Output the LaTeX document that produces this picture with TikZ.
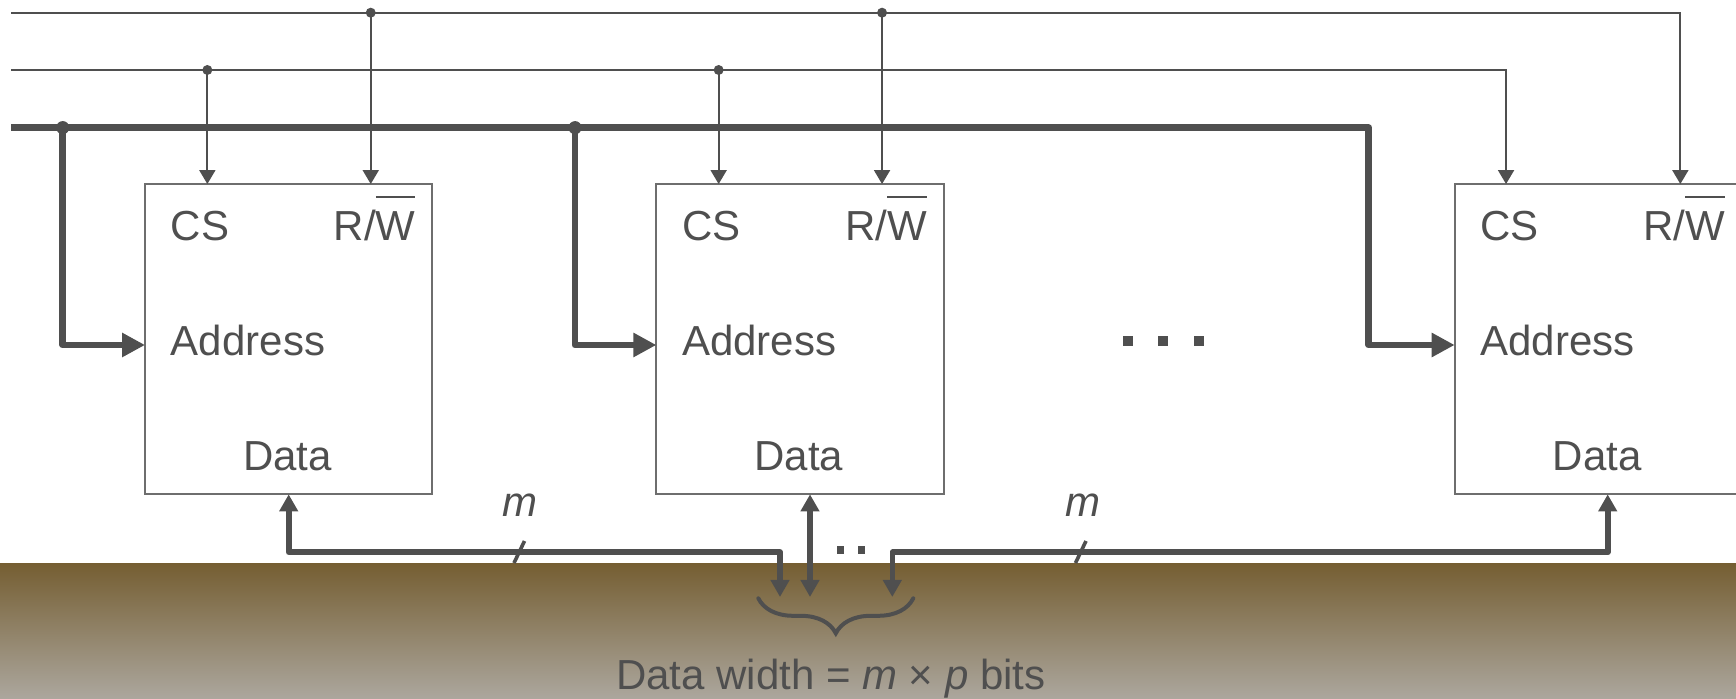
\documentclass[tikz,border=0pt]{standalone}
\usepackage{fontspec}
\setsansfont{Liberation Sans}
\usepackage{xcolor}
\usetikzlibrary{positioning, arrows.meta, calc, decorations.pathreplacing}
\definecolor{ink}{HTML}{4F4F4F}
\definecolor{rim}{HTML}{6E6E6E}
\definecolor{soil}{HTML}{755E32}
\definecolor{sand}{HTML}{ACA79E}
\newcommand{\negbar}[1]{\sbox0{#1}\rlap{\rule[1.02em]{\wd0}{0.9pt}}\usebox0}

\begin{document}
\begin{tikzpicture}[
  x=0.5pt, y=-0.5pt,
  font=\sffamily\fontsize{21}{25}\selectfont,
  chip/.style={draw=rim, line width=1pt, minimum width=143.65pt,
              minimum height=155.15pt, inner sep=0pt, outer sep=0pt},
  pin/.style={inner sep=0pt, text=ink},
  ctl/.style={-{Triangle[length=7pt, width=8pt]}, ink, line width=1pt},
  abus/.style={-{Triangle[length=11.5pt, width=11.5pt]}, ink, line width=3.4pt,
              line join=round},
  dbus/.style={{Triangle[length=8.5pt, width=9pt]}-{Triangle[length=8.5pt, width=9pt]},
              ink, line width=2.8pt, line join=round},
  tick/.style={ink, line width=1.8pt}
]
  \clip (0,0) rectangle (1736,699);

  % Ground band
  \shade[top color=soil, bottom color=sand] (0,563.3) rectangle (1736,699);

  % Memory chips
  \node[chip] (m1) at (288.7,339.2) {};
  \node[chip, right=112pt of m1] (m2) {};
  \node[chip, right=255.5pt of m2] (m3) {};

  % Pin labels
  \node[pin, anchor=base west] (cs1) at ([shift={(25.5,56.7)}]m1.north west) {CS};
  \node[pin, anchor=base east] (rw1) at ([shift={(-16.5,56.7)}]m1.north east) {R/\negbar{W}};
  \node[pin, anchor=base west] (ad1) at ([shift={(25.5,171.7)}]m1.north west) {Address};
  \node[pin, anchor=base west] (da1) at ([shift={(97.7,286.7)}]m1.north west) {Data};

  \node[pin, anchor=base west] (cs2) at ([shift={(25.5,56.7)}]m2.north west) {CS};
  \node[pin, anchor=base east] (rw2) at ([shift={(-16.5,56.7)}]m2.north east) {R/\negbar{W}};
  \node[pin, anchor=base west] (ad2) at ([shift={(25.5,171.7)}]m2.north west) {Address};
  \node[pin, anchor=base west] (da2) at ([shift={(97.7,286.7)}]m2.north west) {Data};

  \node[pin, anchor=base west] (cs3) at ([shift={(25.5,56.7)}]m3.north west) {CS};
  \node[pin, anchor=base east] (rw3) at ([shift={(-16.5,56.7)}]m3.north east) {R/\negbar{W}};
  \node[pin, anchor=base west] (ad3) at ([shift={(25.5,171.7)}]m3.north west) {Address};
  \node[pin, anchor=base west] (da3) at ([shift={(97.7,286.7)}]m3.north west) {Data};

  % Inputs and pin points
  \coordinate (rw0) at (11,12.7);
  \coordinate (cs0) at (11,70);
  \coordinate (bus0) at (11,127.7);

  \coordinate (c1) at ([shift={(62.3,0)}]m1.north west);
  \coordinate (r1) at ([shift={(225.7,0)}]m1.north west);
  \coordinate (c2) at ([shift={(62.3,0)}]m2.north west);
  \coordinate (r2) at ([shift={(225.7,0)}]m2.north west);
  \coordinate (c3) at ([shift={(51.4,0)}]m3.north west);
  \coordinate (r3) at ([shift={(225.7,0)}]m3.north west);
  \coordinate (a1) at ([shift={(0,5.8)}]m1.west);
  \coordinate (a2) at ([shift={(0,5.8)}]m2.west);
  \coordinate (a3) at ([shift={(0,5.8)}]m3.west);
  \coordinate (d1) at ([shift={(-82.3,0)}]a1);
  \coordinate (d2) at ([shift={(-81.3,0)}]a2);
  \coordinate (d3) at ([shift={(-86,0)}]a3);

  % Control lines
  \draw[ctl] (rw0) -| (r3);
  \draw[ctl] (cs0) -| (c3);
  \draw[ctl] (r1 |- rw0) -- (r1);
  \draw[ctl] (c1 |- cs0) -- (c1);
  \draw[ctl] (r2 |- rw0) -- (r2);
  \draw[ctl] (c2 |- cs0) -- (c2);
  \fill[ink] (r1 |- rw0) circle[radius=2.5pt] (c1 |- cs0) circle[radius=2.5pt]
             (r2 |- rw0) circle[radius=2.5pt] (c2 |- cs0) circle[radius=2.5pt];

  % Address bus
  \draw[abus] (bus0) -| (d3) -- (a3);
  \draw[abus] (d1 |- bus0) |- (a1);
  \draw[abus] (d2 |- bus0) |- (a2);
  \fill[ink] (d1 |- bus0) circle[radius=3.3pt] (d2 |- bus0) circle[radius=3.3pt];

  \foreach \x in {1128,1163,1199}
    \fill[ink] (\x-5,336) rectangle ++(10,10);

  % Data lines
  \coordinate (h1) at (780,552.3);
  \coordinate (h3) at (892.3,552.3);
  \coordinate (p1) at (780,597);
  \coordinate (p2) at (810,597);
  \coordinate (p3) at (892.3,597);
  \coordinate (q3) at (1607.7,552.3);

  \draw[dbus] (m1.south) |- (h1) -- (p1);
  \draw[dbus] (p2 |- m2.south) -- (p2);
  \draw[dbus] (q3 |- m3.south) |- (h3) -- (p3);

  \foreach \x in {840.7,861.7}
    \fill[ink] (\x-3.75,546.3) rectangle ++(7.5,7.5);

  \draw[tick] (514,563) -- (524.5,541);
  \draw[tick] (1075.5,563) -- (1086,541);
  \node[pin, anchor=base] (mA) at (520,516.7) {\textit{m}};
  \node[pin, anchor=base] (mB) at (1082.8,516.7) {\textit{m}};

  % Brace and width
  \draw[ink, line width=2pt, line cap=round, decorate,
        decoration={brace, amplitude=17.5pt, mirror}] (758.3,598.3) -- (913.3,598.3);
  \node[pin, anchor=base] (dw) at (830.8,689.3) {Data width = \textit{m} × \textit{p} bits};
\end{tikzpicture}
\end{document}
